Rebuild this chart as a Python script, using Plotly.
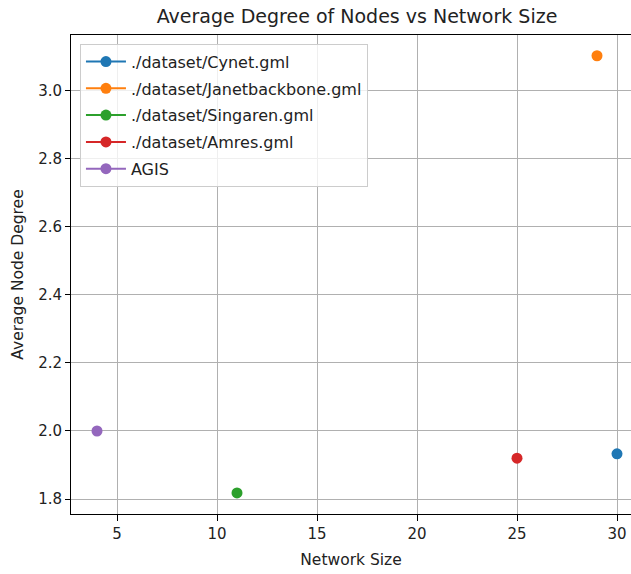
import plotly.graph_objects as go

names = ["./dataset/Cynet.gml", "./dataset/Janetbackbone.gml", "./dataset/Singaren.gml",
         "./dataset/Amres.gml", "AGIS"]
sizes = [30, 29, 11, 25, 4]
degrees = [1.933, 3.103, 1.818, 1.92, 2.0]
colors = ["#1f77b4", "#ff7f0e", "#2ca02c", "#d62728", "#9467bd"]

fig = go.Figure()
for i, (n, s, d, c) in enumerate(zip(names, sizes, degrees, colors)):
    fig.add_trace(go.Scatter(x=[s], y=[d], name=n, mode="lines+markers",
                             legendgroup=f"g{i}",
                             marker=dict(color=c, size=11),
                             line=dict(color=c, width=2)))

font = "DejaVu Sans, sans-serif"
fig.update_layout(
    width=631, height=574,
    margin=dict(l=71, r=0, t=35, b=60),
    plot_bgcolor="white", paper_bgcolor="white",
    font=dict(family=font, size=15, color="#222"),
    title=dict(text="Average Degree of Nodes vs Network Size", x=357/631, xanchor="center",
               y=1 - 16/574, yanchor="middle", font=dict(size=19, color="#222")),
    xaxis=dict(range=[2.7, 30.7], tickvals=[5, 10, 15, 20, 25, 30],
               showgrid=True, gridcolor="#b0b0b0", gridwidth=1,
               showline=True, linecolor="black", linewidth=1, mirror=True,
               ticks="outside", ticklen=6, tickcolor="black", zeroline=False,
               tickfont=dict(size=15),
               title=dict(text="Network Size", font=dict(size=15.5), standoff=12)),
    yaxis=dict(range=[1.756, 3.164], tickvals=[1.8, 2.0, 2.2, 2.4, 2.6, 2.8, 3.0],
               tickformat=".1f",
               showgrid=True, gridcolor="#b0b0b0", gridwidth=1,
               showline=True, linecolor="black", linewidth=1,
               ticks="outside", ticklen=5, tickcolor="black", zeroline=False,
               tickfont=dict(size=15),
               title=dict(text="Average Node Degree", font=dict(size=15.5), standoff=10)),
    legend=dict(x=0.016, y=0.982, yanchor="top", xanchor="left",
                bgcolor="rgba(255,255,255,0.8)", bordercolor="#cccccc", borderwidth=1,
                traceorder="grouped", tracegroupgap=3, itemwidth=40,
                font=dict(size=16, color="#222")),
    showlegend=True,
)
fig.write_html("out.html")
